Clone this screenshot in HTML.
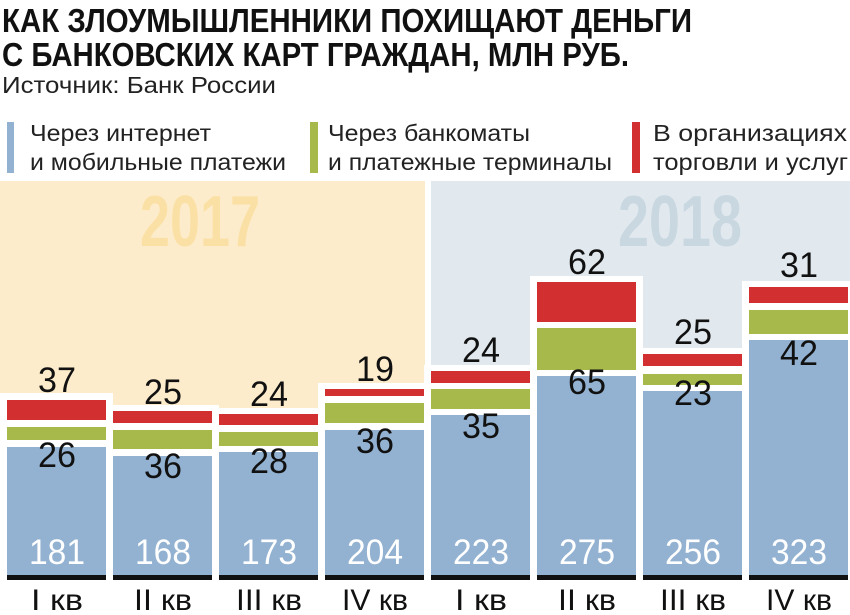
<!DOCTYPE html><html><head><meta charset="utf-8"><style>body{margin:0;background:#fff}svg{display:block}text{font-family:"Liberation Sans",sans-serif}</style></head><body>
<svg width="850" height="615" xmlns="http://www.w3.org/2000/svg">
<text x="2" y="32" font-size="33" font-weight="bold" fill="#111" textLength="690" lengthAdjust="spacingAndGlyphs">КАК ЗЛОУМЫШЛЕННИКИ ПОХИЩАЮТ ДЕНЬГИ</text>
<text x="2" y="66" font-size="33" font-weight="bold" fill="#111" textLength="627" lengthAdjust="spacingAndGlyphs">С БАНКОВСКИХ КАРТ ГРАЖДАН, МЛН РУБ.</text>
<text x="2" y="93" font-size="23" fill="#222" textLength="274" lengthAdjust="spacingAndGlyphs">Источник: Банк России</text>
<rect x="7" y="122" width="7" height="51" fill="#93b2d1"/>
<rect x="310" y="122" width="8" height="51" fill="#a7b94a"/>
<rect x="632" y="122" width="8" height="51" fill="#d23030"/>
<g font-size="23" fill="#222">
<text x="30" y="141" textLength="181" lengthAdjust="spacingAndGlyphs">Через интернет</text><text x="30" y="170" textLength="256" lengthAdjust="spacingAndGlyphs">и мобильные платежи</text>
<text x="328" y="141" textLength="202" lengthAdjust="spacingAndGlyphs">Через банкоматы</text><text x="328" y="170" textLength="284" lengthAdjust="spacingAndGlyphs">и платежные терминалы</text>
<text x="653" y="141" textLength="194" lengthAdjust="spacingAndGlyphs">В организациях</text><text x="653" y="170" textLength="195" lengthAdjust="spacingAndGlyphs">торговли и услуг</text>
</g>
<rect x="0" y="181" width="425" height="395" fill="#fdeccb"/>
<rect x="431" y="181" width="419" height="395" fill="#e1e9ee"/>
<text x="200" y="246" font-size="72" font-weight="bold" fill="#fbe0a6" text-anchor="middle" textLength="120" lengthAdjust="spacingAndGlyphs">2017</text>
<text x="680" y="246" font-size="72" font-weight="bold" fill="#c9d7e0" text-anchor="middle" textLength="124" lengthAdjust="spacingAndGlyphs">2018</text>
<g>
<rect x="0" y="393" width="113" height="190" fill="#fff"/>
<rect x="106" y="405" width="113" height="178" fill="#fff"/>
<rect x="212" y="408" width="113" height="175" fill="#fff"/>
<rect x="318" y="383" width="113" height="200" fill="#fff"/>
<rect x="424" y="365" width="113" height="218" fill="#fff"/>
<rect x="530" y="276" width="113" height="307" fill="#fff"/>
<rect x="636" y="348" width="113" height="235" fill="#fff"/>
<rect x="742" y="281" width="108" height="302" fill="#fff"/>
</g>
<g fill="#93b2d1">
<rect x="7" y="447" width="99" height="128"/><rect x="113" y="456" width="99" height="119"/>
<rect x="219" y="452" width="99" height="123"/><rect x="325" y="430" width="99" height="145"/>
<rect x="431" y="415" width="99" height="160"/><rect x="537" y="376" width="99" height="199"/>
<rect x="643" y="391" width="99" height="184"/><rect x="749" y="340" width="99" height="235"/>
</g>
<g fill="#a7b94a">
<rect x="7" y="427" width="99" height="13"/><rect x="113" y="430" width="99" height="19"/>
<rect x="219" y="432" width="99" height="14"/><rect x="325" y="403" width="99" height="20"/>
<rect x="431" y="389" width="99" height="20"/><rect x="537" y="328" width="99" height="42"/>
<rect x="643" y="374" width="99" height="11"/><rect x="749" y="310" width="99" height="24"/>
</g>
<g fill="#d23030">
<rect x="7" y="400" width="99" height="20"/><rect x="113" y="411" width="99" height="12"/>
<rect x="219" y="414" width="99" height="11"/><rect x="325" y="389" width="99" height="7"/>
<rect x="431" y="371" width="99" height="12"/><rect x="537" y="282" width="99" height="40"/>
<rect x="643" y="354" width="99" height="12"/><rect x="749" y="287" width="99" height="16"/>
</g>
<g fill="#111"><rect x="7" y="575" width="99" height="5"/><rect x="113" y="575" width="99" height="5"/><rect x="219" y="575" width="99" height="5"/><rect x="325" y="575" width="99" height="5"/><rect x="431" y="575" width="99" height="5"/><rect x="537" y="575" width="99" height="5"/><rect x="643" y="575" width="99" height="5"/><rect x="749" y="575" width="99" height="5"/></g>
<g font-size="35" fill="#111" text-anchor="middle">
<text x="57" y="392" textLength="38" lengthAdjust="spacingAndGlyphs">37</text><text x="163" y="404" textLength="38" lengthAdjust="spacingAndGlyphs">25</text><text x="269" y="406" textLength="38" lengthAdjust="spacingAndGlyphs">24</text><text x="375" y="381" textLength="38" lengthAdjust="spacingAndGlyphs">19</text><text x="481" y="362" textLength="38" lengthAdjust="spacingAndGlyphs">24</text><text x="587" y="274" textLength="38" lengthAdjust="spacingAndGlyphs">62</text><text x="693" y="344" textLength="38" lengthAdjust="spacingAndGlyphs">25</text><text x="799" y="277" textLength="38" lengthAdjust="spacingAndGlyphs">31</text>
<text x="57" y="467" textLength="38" lengthAdjust="spacingAndGlyphs">26</text><text x="163" y="478" textLength="38" lengthAdjust="spacingAndGlyphs">36</text><text x="269" y="473" textLength="38" lengthAdjust="spacingAndGlyphs">28</text><text x="375" y="453" textLength="38" lengthAdjust="spacingAndGlyphs">36</text><text x="481" y="438" textLength="38" lengthAdjust="spacingAndGlyphs">35</text><text x="587" y="394" textLength="38" lengthAdjust="spacingAndGlyphs">65</text><text x="693" y="405" textLength="38" lengthAdjust="spacingAndGlyphs">23</text><text x="799" y="365" textLength="38" lengthAdjust="spacingAndGlyphs">42</text>
</g>
<g font-size="35" fill="#fff" text-anchor="middle">
<text x="57" y="564" textLength="56" lengthAdjust="spacingAndGlyphs">181</text><text x="163" y="564" textLength="56" lengthAdjust="spacingAndGlyphs">168</text><text x="269" y="564" textLength="56" lengthAdjust="spacingAndGlyphs">173</text><text x="375" y="564" textLength="56" lengthAdjust="spacingAndGlyphs">204</text><text x="481" y="564" textLength="56" lengthAdjust="spacingAndGlyphs">223</text><text x="587" y="564" textLength="56" lengthAdjust="spacingAndGlyphs">275</text><text x="693" y="564" textLength="56" lengthAdjust="spacingAndGlyphs">256</text><text x="799" y="564" textLength="56" lengthAdjust="spacingAndGlyphs">323</text>
</g>
<g font-size="30" fill="#111" text-anchor="middle">
<text x="57" y="610" textLength="52" lengthAdjust="spacingAndGlyphs">I кв</text><text x="163" y="610" textLength="58" lengthAdjust="spacingAndGlyphs">II кв</text><text x="269" y="610" textLength="66" lengthAdjust="spacingAndGlyphs">III кв</text><text x="375" y="610" textLength="66" lengthAdjust="spacingAndGlyphs">IV кв</text><text x="481" y="610" textLength="52" lengthAdjust="spacingAndGlyphs">I кв</text><text x="587" y="610" textLength="58" lengthAdjust="spacingAndGlyphs">II кв</text><text x="693" y="610" textLength="66" lengthAdjust="spacingAndGlyphs">III кв</text><text x="799" y="610" textLength="66" lengthAdjust="spacingAndGlyphs">IV кв</text>
</g>
</svg></body></html>
